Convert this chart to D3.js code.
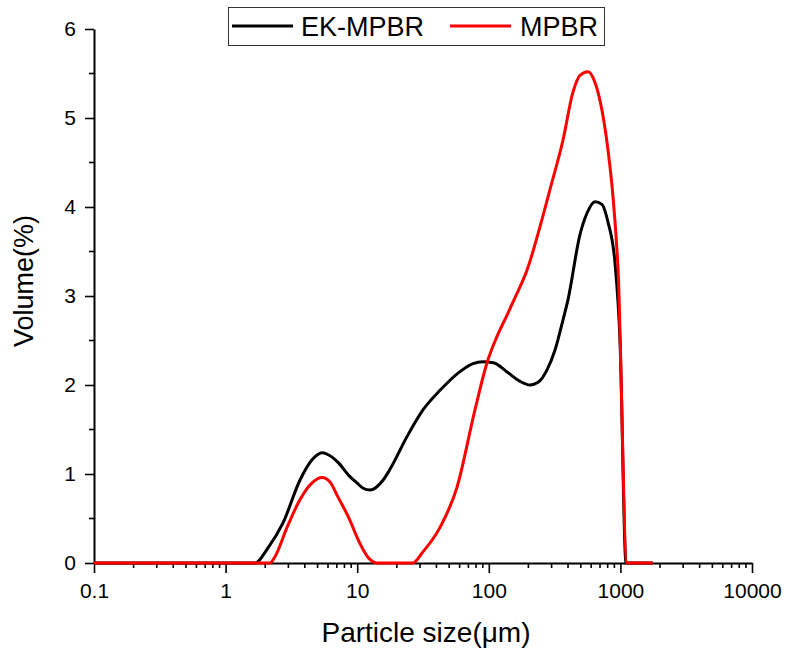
<!DOCTYPE html>
<html>
<head>
<meta charset="utf-8">
<script src="https://cdn.jsdelivr.net/npm/d3@7"></script>
<style>
  body { margin: 0; background: #fff; }
  text { font-family: Arial, "Liberation Sans", sans-serif; }
</style>
</head>
<body>
<div id="chart"></div>
<script>
// particle size (um) / volume (%)
var ekSize = [0.1, 1.67, 2.1, 2.73, 3.67, 4.54, 5.4, 6.44, 7.15, 8.81, 9.96, 11.1, 12.5, 15.7, 17.7, 23.9, 31.6, 42.6, 60.4, 75.9, 90.3, 108, 137, 173, 206, 237, 277, 318, 366, 400, 493, 557, 641, 724, 805, 910, 993, 1104, 1760];
var ekVol  = [0, 0, 0.17, 0.45, 0.93, 1.16, 1.24, 1.19, 1.13, 0.97, 0.9, 0.84, 0.82, 0.93, 1.05, 1.42, 1.72, 1.94, 2.15, 2.24, 2.26, 2.25, 2.15, 2.04, 2.0, 2.03, 2.17, 2.39, 2.73, 2.96, 3.69, 3.93, 4.06, 4.03, 3.83, 3.37, 2.5, 0, 0];

var mpSize = [0.1, 2.17, 2.37, 2.93, 3.67, 4.54, 5.4, 6.21, 7.15, 8.81, 9.96, 11.1, 12.5, 14.1, 26.5, 31, 42.6, 57.3, 78.5, 96.9, 115, 137, 158, 195, 258, 292, 366, 436, 493, 568, 641, 724, 805, 879, 960, 1122, 1760];
var mpVol  = [0, 0, 0.07, 0.40, 0.71, 0.90, 0.96, 0.91, 0.74, 0.48, 0.29, 0.15, 0.04, 0, 0, 0.11, 0.4, 0.85, 1.72, 2.25, 2.54, 2.78, 2.98, 3.29, 3.9, 4.2, 4.75, 5.29, 5.48, 5.52, 5.40, 5.09, 4.64, 4.11, 3.29, 0, 0];

var xTicks = [0.1, 1, 10, 100, 1000, 10000];
var xTickLabels = ["0.1", "1", "10", "100", "1000", "10000"];
var yTicks = [0, 1, 2, 3, 4, 5, 6];

var width = 786, height = 652;
var svg = d3.select("#chart").append("svg")
    .attr("width", width)
    .attr("height", height);

var x = d3.scaleLog().domain([0.1, 10000]).range([94, 752]);
var y = d3.scaleLinear().domain([0, 6]).range([563, 29]);

// minor ticks
var gx = svg.append("g").attr("transform", "translate(0,563)");
gx.selectAll("line.minor")
    .data(x.ticks().filter(function(d) { return xTicks.indexOf(d) < 0; }))
    .enter().append("line")
    .attr("x1", x).attr("x2", x)
    .attr("y1", 0).attr("y2", 5)
    .attr("stroke", "#000").attr("stroke-width", 1.6);

gx.call(d3.axisBottom(x)
        .tickValues(xTicks)
        .tickFormat(function(d, i) { return xTickLabels[i]; })
        .tickSize(10).tickSizeOuter(0).tickPadding(10));

var gy = svg.append("g").attr("transform", "translate(94,0)");
gy.selectAll("line.minor")
    .data(d3.range(0.5, 6, 1))
    .enter().append("line")
    .attr("y1", y).attr("y2", y)
    .attr("x1", 0).attr("x2", -5)
    .attr("stroke", "#000").attr("stroke-width", 1.6);

gy.call(d3.axisLeft(y)
        .tickValues(yTicks)
        .tickFormat(d3.format("d"))
        .tickSize(9).tickSizeOuter(0).tickPadding(9));

svg.selectAll(".domain").attr("stroke-width", 2);
svg.selectAll(".tick line").attr("stroke-width", 1.6);
svg.selectAll(".tick text")
    .style("font-size", "21px")
    .attr("fill", "#000");

// axis titles
svg.append("text")
    .attr("x", 426).attr("y", 642)
    .attr("text-anchor", "middle")
    .style("font-size", "28px")
    .text("Particle size(\u03bcm)");

svg.append("text")
    .attr("transform", "translate(33,281) rotate(-90)")
    .attr("text-anchor", "middle")
    .style("font-size", "27px")
    .text("Volume(%)");

// curves
var line = d3.line()
    .x(function(d) { return x(d[0]); })
    .y(function(d) { return y(d[1]); })
    .curve(d3.curveMonotoneX);

var series = [
    {name: "EK-MPBR", color: "#000000", pts: d3.zip(ekSize, ekVol)},
    {name: "MPBR", color: "#ff0000", pts: d3.zip(mpSize, mpVol)}
];

svg.selectAll("path.series")
    .data(series)
    .enter().append("path")
    .attr("class", "series")
    .attr("fill", "none")
    .attr("stroke", function(d) { return d.color; })
    .attr("stroke-width", 3)
    .attr("stroke-linejoin", "round")
    .attr("d", function(d) { return line(d.pts); });

// legend
var lg = svg.append("g");
lg.append("rect")
    .attr("x", 228.5).attr("y", 7.5)
    .attr("width", 376).attr("height", 38)
    .attr("fill", "#fff")
    .attr("stroke", "#333").attr("stroke-width", 1);

var legendPos = [{lx: 232, tx: 301}, {lx: 450, tx: 520}];
series.forEach(function(s, i) {
    lg.append("line")
        .attr("x1", legendPos[i].lx).attr("x2", legendPos[i].lx + 61)
        .attr("y1", 26).attr("y2", 26)
        .attr("stroke", s.color).attr("stroke-width", 3);
    lg.append("text")
        .attr("x", legendPos[i].tx).attr("y", 36)
        .style("font-size", "27px")
        .text(s.name);
});
</script>
</body>
</html>
